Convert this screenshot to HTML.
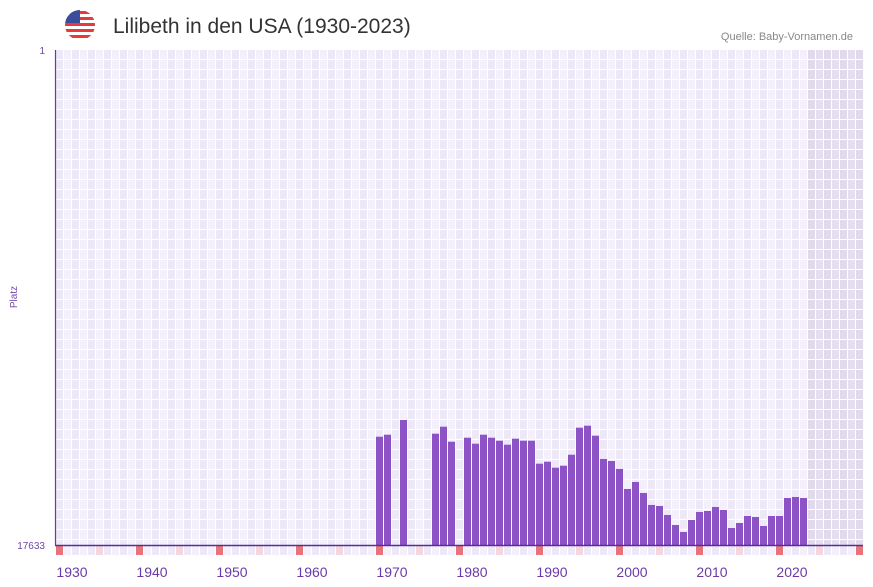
<!DOCTYPE html>
<html><head><meta charset="utf-8"><style>
body{margin:0;background:#fff;font-family:"Liberation Sans",sans-serif;}
svg{display:block}
</style></head><body>
<svg id="c" width="873" height="587">
  <g>
    <clipPath id="fc"><circle cx="80" cy="25" r="15"/></clipPath>
    <g clip-path="url(#fc)">
      <rect x="65" y="10" width="30" height="30" fill="#fff"/>
      <rect x="65" y="11" width="30" height="3" fill="#e63b3b"/>
      <rect x="65" y="17" width="30" height="3" fill="#e63b3b"/>
      <rect x="65" y="23" width="30" height="3" fill="#e63b3b"/>
      <rect x="65" y="29" width="30" height="3" fill="#e63b3b"/>
      <rect x="65" y="35" width="30" height="3" fill="#e63b3b"/>
      <rect x="65" y="10" width="15" height="13" fill="#3a4d9c"/>
    </g>
  </g>
  <text x="113" y="33" font-size="21" fill="#333">Lilibeth in den USA (1930-2023)</text>
  <text x="853" y="40" font-size="11" fill="#888" text-anchor="end">Quelle: Baby-Vornamen.de</text>
  <g id="grid"></g>
  <g id="bars"></g>
  <g id="marks"></g>
  <line x1="55.5" y1="50" x2="55.5" y2="545" stroke="#6a3aa0" stroke-width="1.2"/>
  <line x1="55" y1="545.5" x2="863" y2="545.5" stroke="#5a2e90" stroke-width="1.5"/>
  <text x="45" y="54" font-size="10" fill="#7048a8" text-anchor="end">1</text>
  <text x="45" y="549" font-size="10" fill="#7048a8" text-anchor="end">17633</text>
  <text x="17" y="297" font-size="10" fill="#7048a8" text-anchor="middle" transform="rotate(-90 17 297)">Platz</text>
  <g id="xt"></g>
</svg>
<script>
const years = [1970,1971,1973,1977,1978,1979,1981,1982,1983,1984,1985,1986,1987,1988,1989,1990,1991,1992,1993,1994,1995,1996,1997,1998,1999,2000,2001,2002,2003,2004,2005,2006,2007,2008,2009,2010,2011,2012,2013,2014,2015,2016,2017,2018,2019,2020,2021,2022,2023];
const ranks = [13775,13704,13180,13668,13419,13953,13811,14024,13704,13811,13918,14060,13846,13918,13918,14737,14666,14880,14808,14417,13454,13383,13739,14569,14640,14925,15637,15388,15780,16207,16243,16564,16920,17170,16742,16457,16421,16279,16386,17027,16849,16600,16635,16956,16600,16600,15959,15923,15959];
const tickYears = [1930,1940,1950,1960,1970,1980,1990,2000,2010,2020];
const rankMax = 17633, firstYear = 1930, lastYear = 2030, dataEnd = 2024;
const X0 = 56, CW = 8, YT = 50, YB = 545;
const xs = y => X0 + (y - firstYear) * CW;
const ys = r => YT + (r - 1) / (rankMax - 1) * (YB - YT);
const NS = "http://www.w3.org/2000/svg";
function mk(t, a, p){const e=document.createElementNS(NS,t);for(const k in a)e.setAttribute(k,a[k]);p.appendChild(e);return e;}
const grid = document.getElementById('grid');
for (let y = firstYear - 1; y <= lastYear; y++) {
  const x = y < firstYear ? 55 : xs(y);
  const w = y < firstYear ? 1 : CW;
  const shade = y >= dataEnd;
  const c = mk('rect', {x: x, y: YT, width: w, height: YB - YT, fill: shade ? ((y % 2) ? '#e4dfee' : '#e0daec') : ((y % 2) ? '#f3f0fb' : '#ede8f8')}, grid);
  
  
  const v = mk('rect', {x: x + CW - 1, y: YT, width: 1, height: YB - YT, fill: '#fff'}, grid);
  
  
}
for (let yy = YT + 10; yy < YB; yy += 10) {
  const h = mk('rect', {x: 56, y: yy - 1, width: 807, height: 1, fill: '#fff'}, grid);
  
  
}
const bars = document.getElementById('bars');
years.forEach((y, i) => {
  const top = ys(ranks[i]);
  const b = mk('rect', {x: xs(y), y: top, width: CW - 1, height: YB - top, fill: '#8c52c6'}, bars);
  
  
});
const marks = document.getElementById('marks');
for (let y = firstYear; y <= lastYear; y++) {
  const isDec = (y - firstYear) % 10 === 0, isHalf = (y - firstYear) % 10 === 5;
  const m = mk('rect', {x: xs(y), y: 546, width: CW - 1, height: 9, fill: isDec ? '#e8737a' : (isHalf ? '#f3d6de' : ((y % 2) ? '#f3f0fb' : '#ede8f8'))}, marks);
  
  
}
const xt = document.getElementById('xt');
tickYears.forEach(y => {
  const t = mk('text', {x: xs(y) + 16, y: 577, 'font-size': 14, fill: '#6a3aa8', 'text-anchor': 'middle'}, xt);
  t.textContent = y;
  
  
});
</script>
</body></html>
